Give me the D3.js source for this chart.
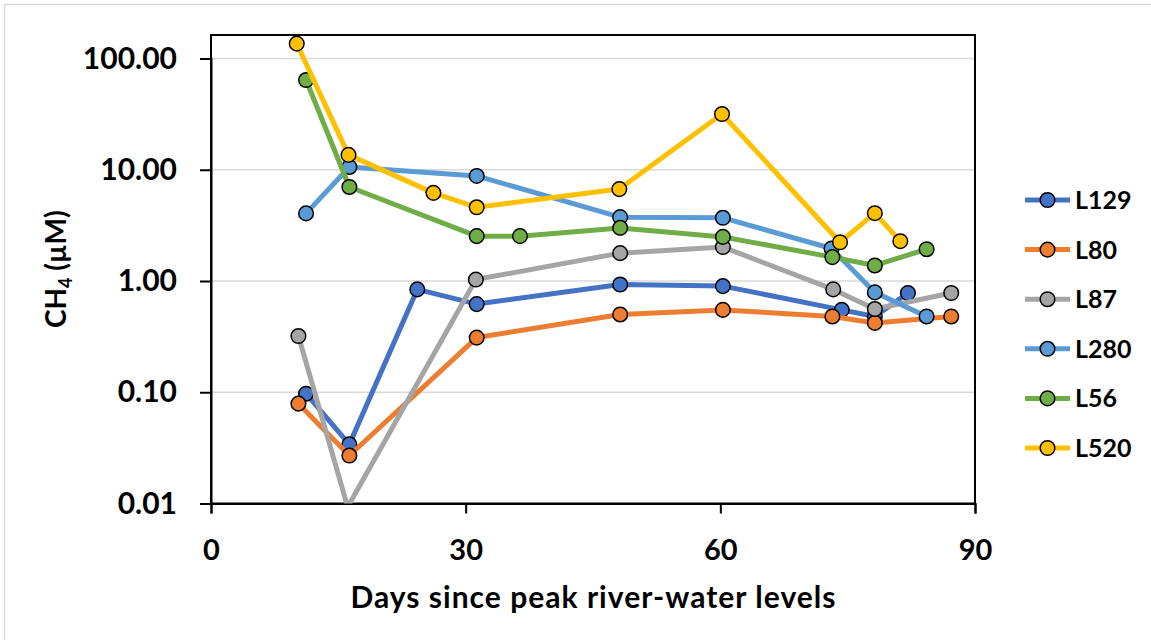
<!DOCTYPE html>
<html>
<head>
<meta charset="utf-8">
<script src="https://cdn.jsdelivr.net/npm/d3@7"></script>
<style>
  html, body { margin: 0; padding: 0; background: #fff; }
  svg { display: block; font-family: Lato, "Open Sans", sans-serif; }
</style>
</head>
<body>
<svg id="chart" width="1151" height="640"></svg>
<script>
// Dissolved CH4 in wells after the river-water peak (log scale)
const seriesNames = ["L129", "L80", "L87", "L280", "L56", "L520"];
const seriesColors = ["#4472C4", "#ED7D31", "#A5A5A5", "#5B9BD5", "#70AD47", "#FFC000"];

const daysL129 = [11.2, 16.3, 24.3, 31.3, 48.2, 60.3, 74.3, 78.2, 82.1];
const ch4L129  = [0.097, 0.034, 0.84, 0.62, 0.93, 0.90, 0.55, 0.48, 0.78];

const daysL80 = [10.3, 16.3, 31.3, 48.2, 60.3, 73.2, 78.2, 87.2];
const ch4L80  = [0.079, 0.027, 0.31, 0.50, 0.55, 0.48, 0.42, 0.48];

const daysL87 = [10.3, 16.1, 31.2, 48.2, 60.3, 73.3, 78.2, 87.2];
const ch4L87  = [0.32, 0.0093, 1.03, 1.78, 2.02, 0.84, 0.56, 0.78];

const daysL280 = [11.2, 16.3, 31.3, 48.2, 60.3, 73.1, 78.2, 84.3];
const ch4L280  = [4.05, 10.6, 8.8, 3.75, 3.7, 1.96, 0.79, 0.48];

const daysL56 = [11.2, 16.3, 31.3, 36.4, 48.2, 60.3, 73.2, 78.2, 84.3];
const ch4L56  = [64, 7.0, 2.53, 2.53, 3.0, 2.49, 1.64, 1.38, 1.93];

const daysL520 = [10.1, 16.2, 26.2, 31.3, 48.1, 60.2, 74.1, 78.2, 81.2];
const ch4L520  = [136, 13.6, 6.2, 4.6, 6.7, 31.7, 2.23, 4.07, 2.28];

const xTicks = [0, 30, 60, 90];
const yTicks = [0.01, 0.1, 1, 10, 100];
const xTitle = "Days since peak river-water levels";

const seriesDays = [daysL129, daysL80, daysL87, daysL280, daysL56, daysL520];
const seriesVals = [ch4L129, ch4L80, ch4L87, ch4L280, ch4L56, ch4L520];
const series = seriesNames.map((name, i) => ({
  name, color: seriesColors[i],
  points: seriesDays[i].map((d, j) => ({ d, v: seriesVals[i][j] }))
}));

const svg = d3.select("#chart");
const plot = { left: 211, right: 975, top: 35, bottom: 503.5 };

// outer chart border
svg.append("rect").attr("x", 4.5).attr("y", 4.5).attr("width", 1170).attr("height", 660)
  .attr("fill", "#fff").attr("stroke", "#D9D9D9").attr("stroke-width", 1.5);

const x = d3.scaleLinear().domain([0, 90]).range([plot.left, plot.right]);
const y = d3.scaleLog().domain([0.01, 100]).range([plot.bottom, 58.5]);

// horizontal gridlines
svg.append("g").selectAll("line").data(yTicks.filter(t => t > 0.01)).join("line")
  .attr("x1", plot.left).attr("x2", plot.right)
  .attr("y1", d => y(d)).attr("y2", d => y(d))
  .attr("stroke", "#D9D9D9").attr("stroke-width", 1.5);

// plot frame
svg.append("rect").attr("x", plot.left).attr("y", plot.top)
  .attr("width", plot.right - plot.left).attr("height", plot.bottom - plot.top)
  .attr("fill", "none").attr("stroke", "#000").attr("stroke-width", 2);

// axes
const xAxis = d3.axisBottom(x).tickValues(xTicks).tickSize(10).tickPadding(26)
  .tickFormat(d3.format("d"));
const gx = svg.append("g").attr("transform", `translate(0,${plot.bottom})`).call(xAxis);
gx.select(".domain").attr("stroke", "#000").attr("stroke-width", 2);
gx.selectAll(".tick line").attr("stroke", "#000").attr("stroke-width", 2);
gx.selectAll(".tick text").attr("font-size", 29).attr("font-weight", 700)
  .attr("fill", "#000").attr("font-family", "Lato");

const yAxis = d3.axisLeft(y).tickValues(yTicks).tickSize(11).tickPadding(23)
  .tickFormat(d3.format(".2f"));
const gy = svg.append("g").attr("transform", `translate(${plot.left},0)`).call(yAxis);
gy.select(".domain").attr("stroke", "#000").attr("stroke-width", 2);
gy.selectAll(".tick line").attr("stroke", "#000").attr("stroke-width", 2);
gy.selectAll(".tick text").attr("font-size", 30).attr("font-weight", 700)
  .attr("fill", "#000").attr("font-family", "Lato");

// axis titles
svg.append("text").attr("x", (plot.left + plot.right) / 2).attr("y", 608)
  .attr("text-anchor", "middle").attr("font-size", 30).attr("font-weight", 700)
  .attr("textLength", 485).attr("lengthAdjust", "spacing")
  .text(xTitle);

const yt = svg.append("text").attr("transform", `translate(66,${(plot.top + plot.bottom) / 2}) rotate(-90)`)
  .attr("text-anchor", "middle").attr("font-size", 28).attr("font-weight", 700);
yt.append("tspan").text("CH");
yt.append("tspan").attr("font-size", 18).attr("dy", 6).text("4");
yt.append("tspan").attr("dy", -6).text(" (µM)");

// series
svg.append("defs").append("clipPath").attr("id", "plotClip").append("rect")
  .attr("x", plot.left).attr("y", plot.top)
  .attr("width", plot.right - plot.left).attr("height", plot.bottom - plot.top);

const line = d3.line().x(p => x(p.d)).y(p => y(p.v));
const layer = svg.append("g").attr("clip-path", "url(#plotClip)");
series.forEach(s => {
  const g = layer.append("g");
  g.append("path").datum(s.points).attr("d", line)
    .attr("fill", "none").attr("stroke", s.color).attr("stroke-width", 5)
    .attr("stroke-linejoin", "round");
  g.selectAll("circle").data(s.points.filter(p => p.v >= y.domain()[0])).join("circle")
    .attr("cx", p => x(p.d)).attr("cy", p => y(p.v)).attr("r", 7.3)
    .attr("fill", s.color).attr("stroke", "#000").attr("stroke-width", 1.5);
});

// legend
const legend = svg.append("g").attr("transform", "translate(1025,200)");
series.forEach((s, i) => {
  const g = legend.append("g").attr("transform", `translate(0,${i * 49.6})`);
  g.append("line").attr("x1", 0).attr("x2", 45).attr("stroke", s.color).attr("stroke-width", 5);
  g.append("circle").attr("cx", 22.5).attr("r", 7.3).attr("fill", s.color)
    .attr("stroke", "#000").attr("stroke-width", 1.5);
  g.append("text").attr("x", 50).attr("dy", "0.36em").attr("font-size", 25)
    .attr("font-weight", 700).text(s.name);
});
</script>
</body>
</html>
